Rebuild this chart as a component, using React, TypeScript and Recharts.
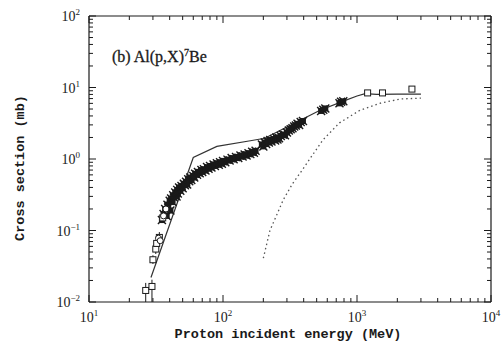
import React from "react";
import { ComposedChart, XAxis, YAxis, Scatter, Line, ErrorBar } from "recharts";

// tick positions (decades + minor 2..9)
const energyTicks = [
  10, 20, 30, 40, 50, 60, 70, 80, 90,
  100, 200, 300, 400, 500, 600, 700, 800, 900,
  1000, 2000, 3000, 4000, 5000, 6000, 7000, 8000, 9000, 10000,
];
const sigmaTicks = [
  0.01, 0.02, 0.03, 0.04, 0.05, 0.06, 0.07, 0.08, 0.09,
  0.1, 0.2, 0.3, 0.4, 0.5, 0.6, 0.7, 0.8, 0.9,
  1, 2, 3, 4, 5, 6, 7, 8, 9,
  10, 20, 30, 40, 50, 60, 70, 80, 90, 100,
];

// calculation (solid)
const calcSolid = [
  { energy: 29, sigma: 0.022 },
  { energy: 60, sigma: 1.05 },
  { energy: 90, sigma: 1.5 },
  { energy: 160, sigma: 1.8 },
  { energy: 205, sigma: 1.95 },
  { energy: 300, sigma: 2.8 },
  { energy: 530, sigma: 4.8 },
  { energy: 800, sigma: 6.5 },
  { energy: 1000, sigma: 7.6 },
  { energy: 1150, sigma: 8.2 },
  { energy: 1400, sigma: 8.0 },
  { energy: 2000, sigma: 8.1 },
  { energy: 3000, sigma: 8.1 },
];

// calculation (dotted)
const calcDotted = [
  { energy: 200, sigma: 0.041 },
  { energy: 224, sigma: 0.1 },
  { energy: 250, sigma: 0.16 },
  { energy: 282, sigma: 0.27 },
  { energy: 330, sigma: 0.45 },
  { energy: 390, sigma: 0.7 },
  { energy: 460, sigma: 1.1 },
  { energy: 557, sigma: 1.85 },
  { energy: 740, sigma: 3.2 },
  { energy: 1050, sigma: 4.8 },
  { energy: 1470, sigma: 6.0 },
  { energy: 2100, sigma: 6.9 },
  { energy: 3000, sigma: 7.1 },
];

// dense measured points
const measured = [
  [35, 0.14], [36, 0.17], [37, 0.2], [38, 0.16], [38.5, 0.23], [39, 0.21],
  [40, 0.26], [40.5, 0.19], [41, 0.28], [42, 0.25], [42.5, 0.31], [43, 0.29],
  [44, 0.34], [45, 0.3], [45.5, 0.37], [46, 0.33], [47, 0.4], [48, 0.36],
  [49, 0.42], [50, 0.39], [51, 0.45], [52, 0.43], [53, 0.48], [54, 0.44],
  [55, 0.52], [56, 0.49], [57, 0.55], [58, 0.51], [60, 0.58], [61, 0.55],
  [62, 0.62], [64, 0.6], [65, 0.66], [67, 0.63], [69, 0.7], [70, 0.66],
  [72, 0.72], [74, 0.69], [76, 0.77], [78, 0.73], [80, 0.8], [82, 0.76],
  [85, 0.84], [87, 0.8], [90, 0.87], [93, 0.83], [95, 0.9], [98, 0.86],
  [100, 0.94], [104, 0.9], [108, 0.98], [112, 0.95], [116, 1.03], [120, 0.99],
  [125, 1.07], [130, 1.03], [135, 1.12], [140, 1.08], [145, 1.16], [150, 1.12],
  [155, 1.2], [160, 1.17], [165, 1.26], [170, 1.22], [175, 1.3],
  [195, 1.6], [200, 1.5], [205, 1.7], [210, 1.62], [215, 1.78], [220, 1.7],
  [225, 1.85], [230, 1.76], [240, 1.9], [245, 1.82], [250, 2.0], [255, 1.88],
  [262, 1.95], [270, 2.1], [280, 2.2], [290, 2.15], [300, 2.35], [310, 2.5],
  [320, 2.6], [330, 2.7], [340, 2.85], [350, 2.95], [360, 3.1], [370, 3.0],
  [380, 3.3], [395, 3.4],
  [540, 4.7], [560, 4.9], [580, 5.1], [740, 6.0], [760, 6.3], [790, 6.4],
].map(([energy, sigma]) => ({ energy, sigma }));

// open squares, low energy (with errors)
const lowSquares = [
  { energy: 26.5, sigma: 0.0145, err: [0.0045, 0.004] },
  { energy: 29.5, sigma: 0.0165, err: [0.0065, 0.004] },
  { energy: 30, sigma: 0.039, err: [0.005, 0.006] },
  { energy: 31.5, sigma: 0.055, err: [0.008, 0.01] },
  { energy: 32, sigma: 0.066, err: [0.01, 0.012] },
  { energy: 33.5, sigma: 0.08, err: [0.012, 0.015] },
  { energy: 35.5, sigma: 0.15, err: [0.02, 0.03] },
];

const lowCircles = [
  { energy: 33, sigma: 0.078 },
  { energy: 34, sigma: 0.072 },
  { energy: 36, sigma: 0.16 },
  { energy: 37.5, sigma: 0.2 },
];

// open squares, high energy
const highSquares = [
  { energy: 1200, sigma: 8.4 },
  { energy: 1550, sigma: 8.4 },
  { energy: 2570, sigma: 9.5 },
];

const INK = "#1a1a1a";
const SERIF = "'Liberation Serif', serif";
const MONO = "'Liberation Mono', monospace";

function isDecade(v: number) {
  const l = Math.log10(v);
  return Math.abs(l - Math.round(l)) < 1e-6;
}

function expLabel(v: number) {
  const e = Math.round(Math.log10(v));
  return e < 0 ? `\u2212${-e}` : `${e}`;
}

function makeTick(side: "bottom" | "top" | "left" | "right", label: boolean) {
  return (props: any) => {
    const { x, y, payload } = props;
    const v = Number(payload?.value);
    const major = isDecade(v);
    const len = major ? 7 : 4;
    let line;
    if (side === "bottom") line = <line x1={x} y1={y} x2={x} y2={y - len} />;
    else if (side === "top") line = <line x1={x} y1={y} x2={x} y2={y + len} />;
    else if (side === "left") line = <line x1={x} y1={y} x2={x + len} y2={y} />;
    else line = <line x1={x} y1={y} x2={x - len} y2={y} />;
    return (
      <g stroke={INK} strokeWidth={1}>
        {line}
        {label && major && side === "bottom" && (
          <text x={x} y={y + 20} textAnchor="middle" fontFamily={SERIF} fontSize={14} fill={INK} stroke="none">
            10<tspan dy={-6} fontSize={9}>{expLabel(v)}</tspan>
          </text>
        )}
        {label && major && side === "left" && (
          <text x={x - 9} y={y + 5} textAnchor="end" fontFamily={SERIF} fontSize={14} fill={INK} stroke="none">
            10<tspan dy={-6} fontSize={9}>{expLabel(v)}</tspan>
          </text>
        )}
      </g>
    );
  };
}

const DenseMark = (p: any) => (
  <g>
    <rect x={p.cx - 3} y={p.cy - 3} width={6} height={6} fill={INK} />
    <path d={`M${p.cx - 4},${p.cy - 4}L${p.cx + 4},${p.cy + 4}M${p.cx - 4},${p.cy + 4}L${p.cx + 4},${p.cy - 4}`} stroke={INK} strokeWidth={1.4} />
  </g>
);

const OpenSquare = (p: any) => (
  <rect x={p.cx - 3} y={p.cy - 3} width={6} height={6} fill="#fff" stroke={INK} strokeWidth={1} />
);

const OpenCircle = (p: any) => (
  <circle cx={p.cx} cy={p.cy} r={3} fill="#fff" stroke={INK} strokeWidth={1} />
);

const axisLine = { stroke: INK, strokeWidth: 1.2 };

export default function App() {
  return (
    <div style={{ position: "absolute", left: 0, top: 0, width: 502, height: 345, background: "#fff" }}>
      <ComposedChart width={502} height={345} margin={{ top: 0, right: 0, bottom: 0, left: 0 }}>
        <XAxis
          xAxisId="b"
          dataKey="energy"
          type="number"
          scale="log"
          domain={[10, 10000]}
          allowDataOverflow
          ticks={energyTicks}
          interval={0}
          height={43}
          tickSize={0}
          tickMargin={0}
          tickLine={false}
          axisLine={axisLine}
          tick={makeTick("bottom", true)}
        />
        <XAxis
          xAxisId="t"
          orientation="top"
          dataKey="energy"
          type="number"
          scale="log"
          domain={[10, 10000]}
          allowDataOverflow
          ticks={energyTicks}
          interval={0}
          height={16}
          tickSize={0}
          tickMargin={0}
          tickLine={false}
          axisLine={axisLine}
          tick={makeTick("top", false)}
        />
        <YAxis
          yAxisId="l"
          dataKey="sigma"
          type="number"
          scale="log"
          domain={[0.01, 100]}
          allowDataOverflow
          ticks={sigmaTicks}
          interval={0}
          width={89}
          tickSize={0}
          tickMargin={0}
          tickLine={false}
          axisLine={axisLine}
          tick={makeTick("left", true)}
        />
        <YAxis
          yAxisId="r"
          orientation="right"
          dataKey="sigma"
          type="number"
          scale="log"
          domain={[0.01, 100]}
          allowDataOverflow
          ticks={sigmaTicks}
          interval={0}
          width={11}
          tickSize={0}
          tickMargin={0}
          tickLine={false}
          axisLine={axisLine}
          tick={makeTick("right", false)}
        />

        <Line xAxisId="b" yAxisId="l" data={calcDotted} dataKey="sigma" type="linear" stroke="#555" strokeWidth={1.3} strokeDasharray="1.5 3" dot={false} isAnimationActive={false} />
        <Line xAxisId="b" yAxisId="l" data={calcSolid} dataKey="sigma" type="linear" stroke="#333" strokeWidth={1.2} dot={false} isAnimationActive={false} />

        <Scatter xAxisId="b" yAxisId="l" data={measured} dataKey="sigma" shape={DenseMark} isAnimationActive={false} />
        <Scatter xAxisId="b" yAxisId="l" data={lowSquares} dataKey="sigma" shape={OpenSquare} isAnimationActive={false}>
          <ErrorBar dataKey="err" direction="y" width={0} stroke={INK} strokeWidth={1} />
        </Scatter>
        <Scatter xAxisId="b" yAxisId="l" data={lowCircles} dataKey="sigma" shape={OpenCircle} isAnimationActive={false} />
        <Scatter xAxisId="b" yAxisId="l" data={highSquares} dataKey="sigma" shape={OpenSquare} isAnimationActive={false} />

        <text x={112} y={62} fontFamily={SERIF} fontSize={16} fill={INK} stroke={INK} strokeWidth={0.3}>
          (b) Al(p,X)<tspan dy={-6} fontSize={10}>7</tspan><tspan dy={6}>Be</tspan>
        </text>
        <text x={288} y={338} textAnchor="middle" fontFamily={MONO} fontWeight="bold" fontSize={13.5} fill={INK}>
          Proton incident energy (MeV)
        </text>
        <text x={24} y={168} transform="rotate(-90 24 168)" textAnchor="middle" fontFamily={MONO} fontWeight="bold" fontSize={13.5} fill={INK}>
          Cross section (mb)
        </text>
      </ComposedChart>
    </div>
  );
}
